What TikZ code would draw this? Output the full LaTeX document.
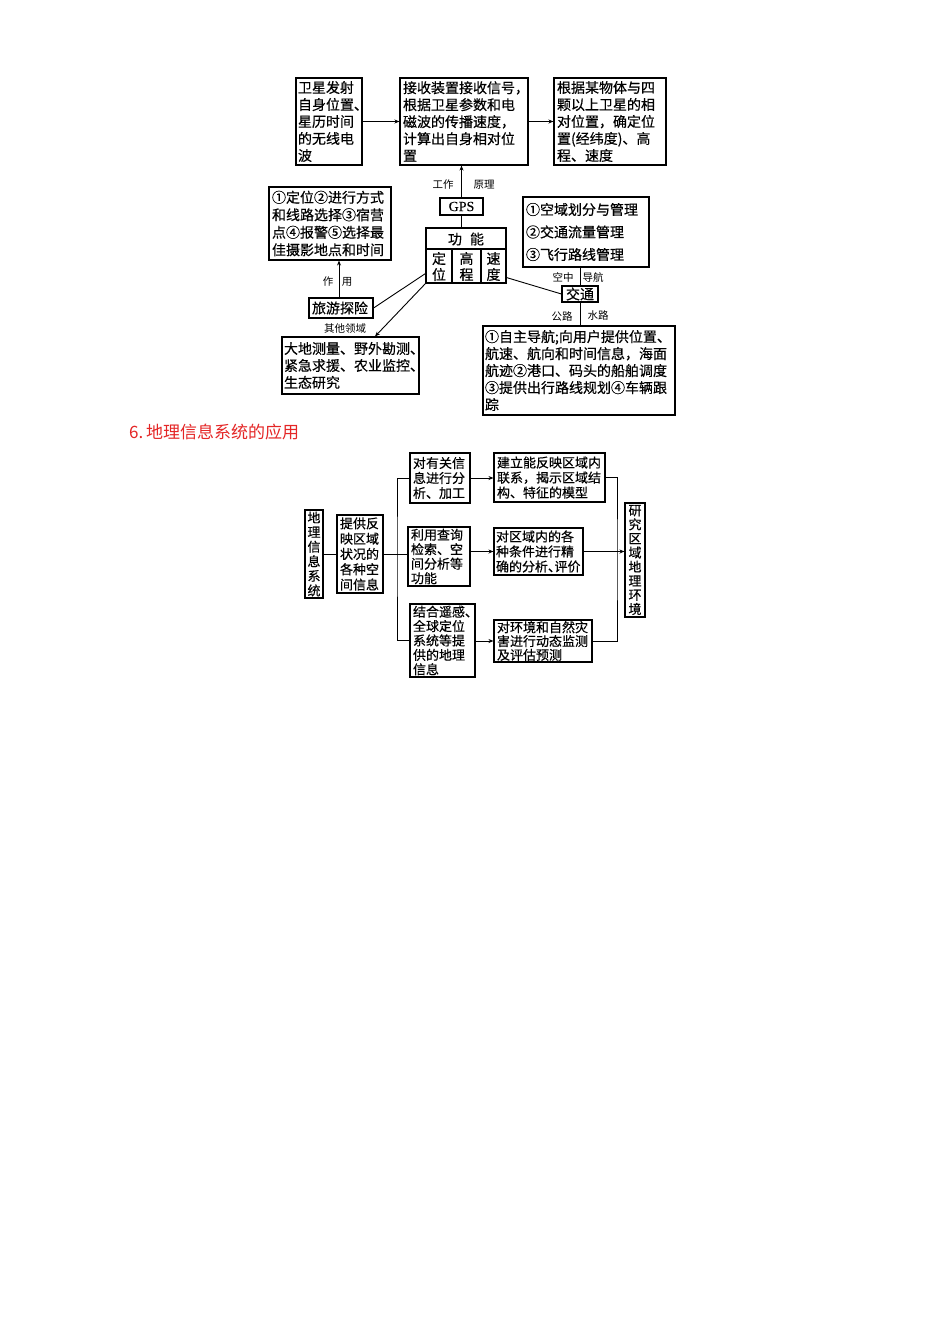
\documentclass[tikz,border=0pt]{standalone}
\usepackage{fontspec}
\newfontfamily\cjk[FakeBold=0.4]{Noto Sans CJK SC}
\newfontfamily\cjklight{Noto Sans CJK SC}
\newfontfamily\serifb[FakeBold=0.4]{Liberation Serif}
\usetikzlibrary{arrows.meta}
\definecolor{titlered}{RGB}{228,38,38}
\newcommand{\halfc}[1]{\makebox[0.5em][l]{#1}}
\tikzset{
 box/.style={draw, line width=1.1pt, inner xsep=3pt, inner ysep=0pt, align=left, font=\cjk\fontsize{14}{17}\selectfont},
 sbox/.style={box, font=\cjk\fontsize{13}{15}\selectfont},
 txt/.style={inner sep=0pt, align=center, font=\cjk\fontsize{14}{16}\selectfont},
 lbl/.style={inner sep=0pt, font=\cjklight\fontsize{10.5}{12}\selectfont},
 con/.style={line width=0.9pt},
 arr/.style={con, -{Stealth[length=5pt,width=4pt]}},
}
\begin{document}
\begin{tikzpicture}[x=1pt,y=-1pt]
\fill[white] (0,0) rectangle (950,1344);
\useasboundingbox (0,0) rectangle (950,1344);

% ---------- top diagram ----------
\node[box, inner xsep=2pt, text width=62pt, minimum height=87pt] (A) at (329,121.5) {卫星发射\\自身位置\halfc{、}\\星历时间\\的无线电\\波};
\node[box, text width=122pt, minimum height=87pt] (B) at (464,121.5) {接收装置接收信号\halfc{，}\\根据卫星参数和电\\磁波的传播速度，\\计算出自身相对位\\置};
\node[box, text width=106pt, minimum height=87pt] (C) at (610,121.5) {根据某物体与四\\颗以上卫星的相\\对位置，确定位\\置(经纬度)、高\\程、速度};
\node[box, font=\serifb\fontsize{14}{14}\selectfont, inner xsep=0pt, minimum width=43pt, minimum height=17pt] (gps) at (461.5,206.5) {GPS};
\node[draw, line width=1.1pt, inner sep=0pt, minimum width=80pt, minimum height=55pt] (gn) at (466,255.5) {};
\draw[line width=1.1pt] (426,249) -- (506,249) (452,249) -- (452,283) (481,249) -- (481,283);
\node[txt] (gnh) at (466,239) {功\hspace{8pt}能};
\node[txt] (gc1) at (439,266.5) {定\\位};
\node[txt] (gc2) at (466.5,266.5) {高\\程};
\node[txt] (gc3) at (493.5,266.5) {速\\度};
\node[box, font=\cjk\fontsize{14}{17.5}\selectfont, text width=116pt, minimum height=73pt] (L1) at (330,223.5) {①定位②进行方式\\和线路选择③宿营\\点④报警⑤选择最\\佳摄影地点和时间};
\node[box, text width=58pt, minimum height=20pt] (ly) at (341,308) {旅游探险};
\node[box, inner xsep=2pt, text width=133pt, minimum height=57pt] (dd) at (350.5,365.5) {大地测量、野外勘测\halfc{、}\\紧急求援、农业监控\halfc{、}\\生态研究};
\node[box, font=\cjk\fontsize{14}{22.5}\selectfont, text width=120pt, minimum height=70pt] (R1) at (586,232) {①空域划分与管理\\②交通流量管理\\③飞行路线管理};
\node[box, inner xsep=4pt, text width=28pt, minimum height=16pt] (jt) at (580,294) {交通};
\node[box, inner xsep=2pt, text width=188pt, minimum height=89pt] (R2) at (579,370.5) {①自主导航;向用户提供位置\halfc{、}\\航速、航向和时间信息，海面\\航迹②港口、码头的船舶调度\\③提供出行路线规划④车辆跟\\踪};

\draw[arr] (A) -- (B);
\draw[arr] (B) -- (C);
\draw[arr] (gps.north) -- (gps.north |- B.south);
\draw[con] (gps.south) -- (gps.south |- gn.north);
\draw[arr] ([xshift=-2pt]ly.north) -- ([xshift=-2pt]ly.north |- L1.south);
\draw[con] ([yshift=10pt]gn.south west) -- (ly.east);
\draw[arr] (gn.south west) -- ([xshift=24.5pt]dd.north);
\draw[con] ([yshift=6pt]gn.south east) -- (jt.west);
\draw[con] (jt.north |- R1.south) -- (jt.north);
\draw[con] (jt.south) -- (jt.south |- R2.north);

\node[lbl] (l1) at (443,185) {工作};
\node[lbl] (l2) at (484,185) {原理};
\node[lbl] (l3) at (328,282) {作};
\node[lbl] (l4) at (347,282) {用};
\node[lbl] (l5) at (345,329) {其他领域};
\node[lbl] (l6) at (563,277) {空中};
\node[lbl] (l7) at (593,277) {导航};
\node[lbl] (l8) at (562,316) {公路};
\node[lbl] (l9) at (598,316) {水路};

% ---------- title ----------
\node[anchor=west, inner sep=0pt, text=titlered, font=\cjklight\fontsize{17}{17}\selectfont] (title) at (129,432) {6.\,地理信息系统的应用};

% ---------- bottom diagram ----------
\node[sbox, align=center, inner xsep=2pt, text width=14pt, minimum height=88pt, font=\cjk\fontsize{13}{14.6}\selectfont] (g1) at (314,554) {地\\理\\信\\息\\系\\统};
\node[sbox, font=\cjk\fontsize{13}{15.3}\selectfont, text width=40pt, minimum height=78pt] (g2) at (360,554) {提供反\\映区域\\状况的\\各种空\\间信息};
\node[sbox, text width=54pt, minimum height=50pt] (g3a) at (440,478) {对有关信\\息进行分\\析、加工};
\node[sbox, font=\cjk\fontsize{13}{14.5}\selectfont, text width=56pt, minimum height=59pt] (g3b) at (439,556.5) {利用查询\\检索、空\\间分析等\\功能};
\node[sbox, font=\cjk\fontsize{13}{14.4}\selectfont, text width=59pt, minimum height=73pt] (g3c) at (442.5,640.5) {结合遥感\halfc{、}\\全球定位\\系统等提\\供的地理\\信息};
\node[sbox, text width=105pt, minimum height=49pt] (g4a) at (549.5,477.5) {建立能反映区域内\\联系，揭示区域结\\构、特征的模型};
\node[sbox, inner xsep=2pt, text width=85pt, minimum height=47pt] (g4b) at (538.5,551.5) {对区域内的各\\种条件进行精\\确的分析\halfc{、}评价};
\node[sbox, font=\cjk\fontsize{13}{13.8}\selectfont, text width=92pt, minimum height=42pt] (g4c) at (543,641) {对环境和自然灾\\害进行动态监测\\及评估预测};
\node[sbox, align=center, inner xsep=2pt, text width=16pt, minimum height=114pt, font=\cjk\fontsize{13}{14.1}\selectfont] (g5) at (635,560) {研\\究\\区\\域\\地\\理\\环\\境};

\coordinate (bx) at (397,554);
\coordinate (rx) at (617,560);
\draw[con] (g1) -- (g2);
\draw[con] (g2.east) -- (g3b.west |- g2.east);
\draw[con] (g3a.west) -| (bx) |- (g3c.west);
\draw[arr] (g3a.east) -- (g3a.east -| g4a.west);
\draw[arr] (g3b.east |- g4b.west) -- (g4b.west);
\draw[arr] (g3c.east |- g4c.west) -- (g4c.west);
\draw[con] (g4a.east) -| (rx) |- (g4c.east);
\draw[arr] (g4b.east) -- (g4b.east -| g5.west);
\end{tikzpicture}
\end{document}
